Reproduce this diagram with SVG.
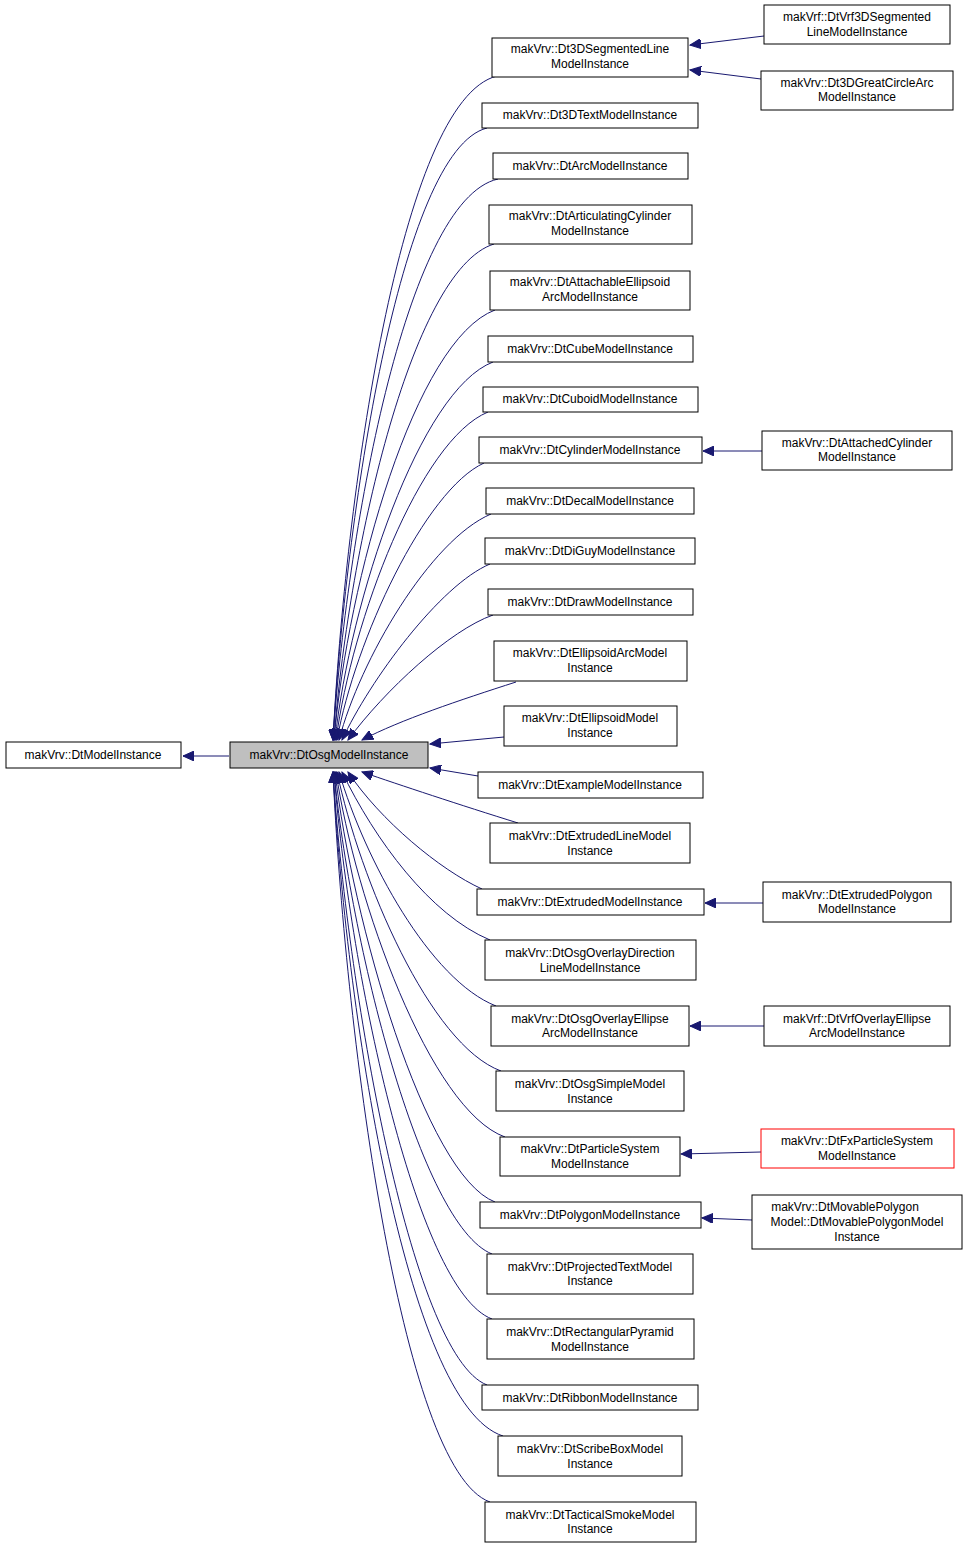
<svg xmlns="http://www.w3.org/2000/svg" width="968" height="1548" viewBox="0 0 968 1548">
<style>
rect{fill:#fff;stroke:#000;stroke-width:1}
text{font-family:"Liberation Sans",Arial,sans-serif;font-size:12px;text-anchor:middle;fill:#000}
#edges path{fill:none;stroke:#191970;stroke-width:1}
</style>
<defs><marker id="a" markerWidth="12" markerHeight="10" refX="11" refY="5" orient="auto" markerUnits="userSpaceOnUse"><path d="M0,0 L11,5 L0,10 z" fill="#191970" stroke="#191970"/></marker></defs>
<rect width="968" height="1548" style="stroke:none"/>
<g id="edges">
<path d="M229,756 H183" marker-end="url(#a)"/>
<path d="M497,76 C400,100 345,500 333,740" marker-end="url(#a)"/>
<path d="M487,128 C400,150 345,520 333,740" marker-end="url(#a)"/>
<path d="M498,179 C405,200 346,540 333,740" marker-end="url(#a)"/>
<path d="M494,244 C410,270 347,560 334,740" marker-end="url(#a)"/>
<path d="M495,310 C415,340 348,580 334,740" marker-end="url(#a)"/>
<path d="M493,362 C420,390 350,600 335,740" marker-end="url(#a)"/>
<path d="M488,412 C420,440 352,620 336,740" marker-end="url(#a)"/>
<path d="M484,463 C425,490 355,640 337,740" marker-end="url(#a)"/>
<path d="M491,514 C430,540 360,660 339,740" marker-end="url(#a)"/>
<path d="M490,564 C440,585 370,680 342,740" marker-end="url(#a)"/>
<path d="M493,615 C450,630 385,690 348,740" marker-end="url(#a)"/>
<path d="M516,682 C460,700 400,720 362,740" marker-end="url(#a)"/>
<path d="M504,737 L430,744" marker-end="url(#a)"/>
<path d="M478,776 L430,768" marker-end="url(#a)"/>
<path d="M518,823 C460,805 400,785 362,772" marker-end="url(#a)"/>
<path d="M482,889 C440,870 380,820 348,772" marker-end="url(#a)"/>
<path d="M490,940 C430,915 375,840 342,772" marker-end="url(#a)"/>
<path d="M496,1006 C430,980 365,860 339,772" marker-end="url(#a)"/>
<path d="M501,1071 C430,1045 360,880 337,772" marker-end="url(#a)"/>
<path d="M505,1137 C430,1110 355,900 336,772" marker-end="url(#a)"/>
<path d="M495,1202 C425,1175 352,920 335,772" marker-end="url(#a)"/>
<path d="M492,1254 C420,1225 350,940 334,772" marker-end="url(#a)"/>
<path d="M492,1319 C415,1290 348,960 334,772" marker-end="url(#a)"/>
<path d="M487,1385 C410,1355 346,980 333,772" marker-end="url(#a)"/>
<path d="M503,1436 C405,1405 345,1000 333,772" marker-end="url(#a)"/>
<path d="M490,1502 C400,1470 344,1020 333,772" marker-end="url(#a)"/>
<path d="M764,36 L690,45" marker-end="url(#a)"/>
<path d="M761,79 L690,70" marker-end="url(#a)"/>
<path d="M762,451 H703" marker-end="url(#a)"/>
<path d="M763,903 H705" marker-end="url(#a)"/>
<path d="M764,1026 H690" marker-end="url(#a)"/>
<path d="M761,1152 L681,1154" marker-end="url(#a)"/>
<path d="M752,1220 L702,1218" marker-end="url(#a)"/>
</g>
<g id="n0"><rect x="6" y="742" width="175" height="26"/><text x="93" y="759">makVrv::DtModelInstance</text></g>
<g id="n1"><rect x="230" y="742" width="198" height="26" style="fill:#bfbfbf"/><text x="329" y="759">makVrv::DtOsgModelInstance</text></g>
<g id="m1"><rect x="492" y="38" width="196" height="39"/><text x="590" y="53">makVrv::Dt3DSegmentedLine</text><text x="590" y="68">ModelInstance</text></g>
<g id="m2"><rect x="482" y="103" width="216" height="25"/><text x="590" y="119">makVrv::Dt3DTextModelInstance</text></g>
<g id="m3"><rect x="493" y="153" width="195" height="26"/><text x="590" y="170">makVrv::DtArcModelInstance</text></g>
<g id="m4"><rect x="489" y="205" width="203" height="39"/><text x="590" y="220">makVrv::DtArticulatingCylinder</text><text x="590" y="235">ModelInstance</text></g>
<g id="m5"><rect x="490" y="271" width="200" height="39"/><text x="590" y="286">makVrv::DtAttachableEllipsoid</text><text x="590" y="301">ArcModelInstance</text></g>
<g id="m6"><rect x="488" y="336" width="205" height="26"/><text x="590" y="353">makVrv::DtCubeModelInstance</text></g>
<g id="m7"><rect x="483" y="387" width="215" height="25"/><text x="590" y="403">makVrv::DtCuboidModelInstance</text></g>
<g id="m8"><rect x="479" y="437" width="223" height="26"/><text x="590" y="454">makVrv::DtCylinderModelInstance</text></g>
<g id="m9"><rect x="486" y="488" width="208" height="26"/><text x="590" y="505">makVrv::DtDecalModelInstance</text></g>
<g id="m10"><rect x="485" y="538" width="210" height="26"/><text x="590" y="555">makVrv::DtDiGuyModelInstance</text></g>
<g id="m11"><rect x="488" y="589" width="205" height="26"/><text x="590" y="606">makVrv::DtDrawModelInstance</text></g>
<g id="m12"><rect x="494" y="641" width="193" height="40"/><text x="590" y="657">makVrv::DtEllipsoidArcModel</text><text x="590" y="672">Instance</text></g>
<g id="m13"><rect x="504" y="706" width="173" height="40"/><text x="590" y="722">makVrv::DtEllipsoidModel</text><text x="590" y="737">Instance</text></g>
<g id="m14"><rect x="478" y="772" width="225" height="26"/><text x="590" y="789">makVrv::DtExampleModelInstance</text></g>
<g id="m15"><rect x="490" y="823" width="200" height="40"/><text x="590" y="840">makVrv::DtExtrudedLineModel</text><text x="590" y="855">Instance</text></g>
<g id="m16"><rect x="477" y="889" width="227" height="26"/><text x="590" y="906">makVrv::DtExtrudedModelInstance</text></g>
<g id="m17"><rect x="485" y="940" width="211" height="40"/><text x="590" y="957">makVrv::DtOsgOverlayDirection</text><text x="590" y="972">LineModelInstance</text></g>
<g id="m18"><rect x="491" y="1006" width="198" height="40"/><text x="590" y="1023">makVrv::DtOsgOverlayEllipse</text><text x="590" y="1037">ArcModelInstance</text></g>
<g id="m19"><rect x="496" y="1071" width="188" height="40"/><text x="590" y="1088">makVrv::DtOsgSimpleModel</text><text x="590" y="1103">Instance</text></g>
<g id="m20"><rect x="500" y="1137" width="180" height="39"/><text x="590" y="1153">makVrv::DtParticleSystem</text><text x="590" y="1168">ModelInstance</text></g>
<g id="m21"><rect x="480" y="1202" width="221" height="26"/><text x="590" y="1219">makVrv::DtPolygonModelInstance</text></g>
<g id="m22"><rect x="487" y="1254" width="206" height="40"/><text x="590" y="1271">makVrv::DtProjectedTextModel</text><text x="590" y="1285">Instance</text></g>
<g id="m23"><rect x="487" y="1319" width="207" height="40"/><text x="590" y="1336">makVrv::DtRectangularPyramid</text><text x="590" y="1351">ModelInstance</text></g>
<g id="m24"><rect x="482" y="1385" width="216" height="25"/><text x="590" y="1402">makVrv::DtRibbonModelInstance</text></g>
<g id="m25"><rect x="498" y="1436" width="184" height="40"/><text x="590" y="1453">makVrv::DtScribeBoxModel</text><text x="590" y="1468">Instance</text></g>
<g id="m26"><rect x="485" y="1502" width="211" height="40"/><text x="590" y="1519">makVrv::DtTacticalSmokeModel</text><text x="590" y="1533">Instance</text></g>
<g id="r1"><rect x="764" y="5" width="186" height="39"/><text x="857" y="21">makVrf::DtVrf3DSegmented</text><text x="857" y="36">LineModelInstance</text></g>
<g id="r2"><rect x="761" y="71" width="192" height="39"/><text x="857" y="87">makVrv::Dt3DGreatCircleArc</text><text x="857" y="101">ModelInstance</text></g>
<g id="r3"><rect x="762" y="431" width="190" height="39"/><text x="857" y="447">makVrv::DtAttachedCylinder</text><text x="857" y="461">ModelInstance</text></g>
<g id="r4"><rect x="763" y="882" width="188" height="40"/><text x="857" y="899">makVrv::DtExtrudedPolygon</text><text x="857" y="913">ModelInstance</text></g>
<g id="r5"><rect x="764" y="1006" width="186" height="40"/><text x="857" y="1023">makVrf::DtVrfOverlayEllipse</text><text x="857" y="1037">ArcModelInstance</text></g>
<g id="r6"><rect x="761" y="1129" width="193" height="39" style="stroke:#f00"/><text x="857" y="1145">makVrv::DtFxParticleSystem</text><text x="857" y="1160">ModelInstance</text></g>
<g id="r7"><rect x="752" y="1195" width="210" height="54"/><text x="845" y="1211">makVrv::DtMovablePolygon</text><text x="857" y="1226">Model::DtMovablePolygonModel</text><text x="857" y="1241">Instance</text></g>
</svg>
